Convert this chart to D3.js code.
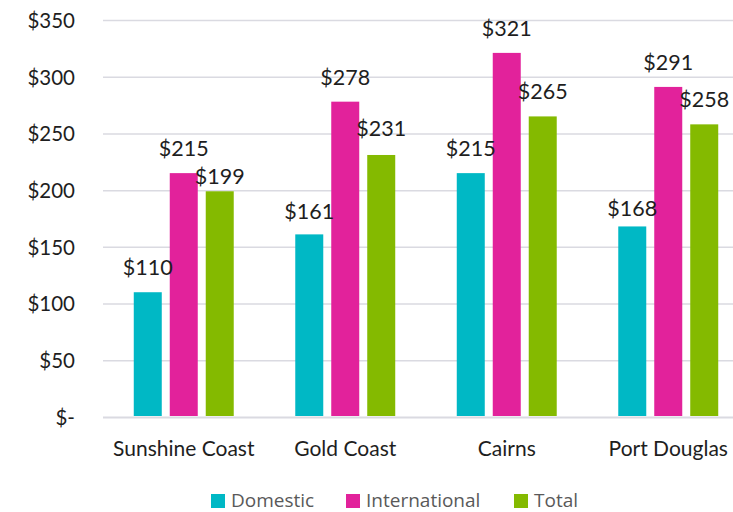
<!DOCTYPE html>
<html>
<head>
<meta charset="utf-8">
<script src="https://cdn.jsdelivr.net/npm/d3@7"></script>
<style>
html,body{margin:0;padding:0;background:#fff;}
svg{display:block;}
</style>
</head>
<body>
<svg id="chart" width="733" height="512"></svg>
<script>
const categories = ["Sunshine Coast", "Gold Coast", "Cairns", "Port Douglas"];
const seriesNames = ["Domestic", "International", "Total"];
const domestic = [110, 161, 215, 168];
const international = [215, 278, 321, 291];
const total = [199, 231, 265, 258];
const yTicks = [0, 50, 100, 150, 200, 250, 300, 350];

(function () {
const seriesValues = [domestic, international, total];
const colors = ["#00B8C5", "#E2229B", "#84BA00"];
// manual label nudges (px, positive = lower), matching the original layout
const labelNudge = {"Total|Sunshine Coast": 10, "Domestic|Port Douglas": 7, "Domestic|Gold Coast": 2, "Total|Gold Coast": -2};

const svg = d3.select("#chart");
const pLeft = 103, pRight = 749, pTop = 20, pBottom = 417;

const y = d3.scaleLinear().domain([0, 350]).range([pBottom, pTop]);
const x0 = d3.scaleBand().domain(categories).range([pLeft, pRight]).paddingInner(0.381).paddingOuter(0.1905);
const x1 = d3.scaleBand().domain(seriesNames).range([0, x0.bandwidth()]).paddingInner(0.222).paddingOuter(0);
const color = d3.scaleOrdinal().domain(seriesNames).range(colors);

// gridlines
const yAxis = d3.axisLeft(y).tickValues(yTicks).tickSize(-(733 - pLeft)).tickFormat(d => d === 0 ? "$-" : "$" + d);
const gy = svg.append("g").attr("transform", `translate(${pLeft},0)`).call(yAxis);
gy.select(".domain").remove();
gy.selectAll(".tick line").attr("stroke", "#dadae1").attr("stroke-width", d => d === 0 ? 2 : 1.5);
gy.selectAll(".tick text").attr("x", -28).attr("dy", "0.36em")
  .attr("font-family", "Lato, sans-serif").attr("font-size", 20.5).attr("fill", "#1e1e1e");

// bars
const data = [];
categories.forEach((c, i) => seriesNames.forEach((s, j) => data.push({cat: c, series: s, value: seriesValues[j][i]})));

const groups = svg.append("g");
groups.selectAll("rect").data(data).enter().append("rect")
  .attr("x", d => x0(d.cat) + x1(d.series))
  .attr("y", d => y(d.value))
  .attr("width", x1.bandwidth())
  .attr("height", d => y(0) - y(d.value) - 1)
  .attr("fill", d => color(d.series));

// labels
groups.selectAll("text").data(data).enter().append("text")
  .attr("x", d => x0(d.cat) + x1(d.series) + x1.bandwidth() / 2)
  .attr("y", d => y(d.value) - 17 + (labelNudge[d.series + "|" + d.cat] || 0))
  .attr("text-anchor", "middle")
  .attr("font-family", "Lato, sans-serif").attr("font-size", 21.5).attr("fill", "#1e1e1e")
  .text(d => "$" + d.value);

// x axis labels
const xAxis = d3.axisBottom(x0).tickSize(0);
const gx = svg.append("g").attr("transform", `translate(0,${pBottom})`).call(xAxis);
gx.select(".domain").remove();
gx.selectAll(".tick text").attr("y", 39).attr("dy", 0)
  .attr("font-family", "Lato, sans-serif").attr("font-size", 21).attr("fill", "#1e1e1e");

// legend
const legendX = [211, 346, 514];
const lg = svg.append("g");
seriesNames.forEach((s, i) => {
  lg.append("rect").attr("x", legendX[i]).attr("y", 494).attr("width", 14).attr("height", 14).attr("fill", color(s));
  lg.append("text").attr("x", legendX[i] + 20).attr("y", 507)
    .attr("font-family", "'Open Sans', sans-serif").attr("font-size", 19).attr("fill", "#595959").text(s);
});
})();
</script>
</body>
</html>
